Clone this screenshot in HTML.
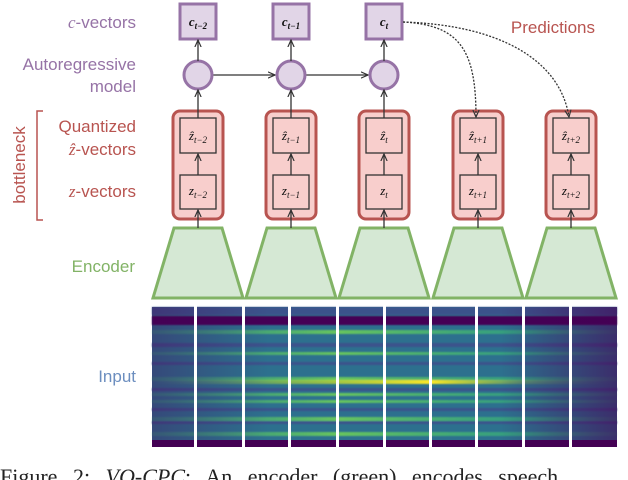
<!DOCTYPE html>
<html><head><style>
body{margin:0;background:#fff;width:628px;height:480px;overflow:hidden;}
svg{display:block}
</style></head><body>
<svg width="628" height="480" viewBox="0 0 628 480" xmlns="http://www.w3.org/2000/svg">
<defs>
<marker id="a" viewBox="0 0 10 10" refX="9" refY="5" markerWidth="6" markerHeight="6" orient="auto"><path d="M0,1 L9,5 L0,9" fill="none" stroke="#333" stroke-width="1.5"/></marker>
<linearGradient id="hx" x1="0" x2="1" y1="0" y2="0">
<stop offset="0" stop-color="#440154" stop-opacity="0.35"/>
<stop offset="0.25" stop-color="#440154" stop-opacity="0"/>
<stop offset="0.75" stop-color="#440154" stop-opacity="0"/>
<stop offset="0.85" stop-color="#440154" stop-opacity="0.25"/>
<stop offset="1" stop-color="#440154" stop-opacity="0.6"/>
</linearGradient>
<linearGradient id="yb" x1="0" x2="1" y1="0" y2="0">
<stop offset="0" stop-color="#6ece58" stop-opacity="0"/>
<stop offset="0.3" stop-color="#b5de2b" stop-opacity="0.6"/>
<stop offset="0.6" stop-color="#fde725" stop-opacity="1"/>
<stop offset="0.8" stop-color="#b5de2b" stop-opacity="0.3"/>
<stop offset="1" stop-color="#6ece58" stop-opacity="0"/>
</linearGradient>
<linearGradient id="gb" x1="0" x2="1" y1="0" y2="0">
<stop offset="0" stop-color="#35b779" stop-opacity="0.3"/>
<stop offset="0.4" stop-color="#6ece58" stop-opacity="0.9"/>
<stop offset="0.8" stop-color="#35b779" stop-opacity="0.6"/>
<stop offset="1" stop-color="#35b779" stop-opacity="0.2"/>
</linearGradient>
<filter id="bl"><feGaussianBlur stdDeviation="0.8"/></filter>
</defs>

<g font-family="Liberation Sans, sans-serif" font-size="17" text-anchor="end">
<text x="136" y="28" fill="#9673a6"><tspan font-family="Liberation Serif, serif" font-style="italic">c</tspan>-vectors</text>
<text x="136" y="70" fill="#9673a6">Autoregressive</text>
<text x="136" y="92" fill="#9673a6">model</text>
<text x="136" y="132" fill="#b85450">Quantized</text>
<text x="136" y="155" fill="#b85450"><tspan font-family="Liberation Serif, serif" font-style="italic">ẑ</tspan>-vectors</text>
<text x="136" y="197" fill="#b85450"><tspan font-family="Liberation Serif, serif" font-style="italic">z</tspan>-vectors</text>
<text x="135" y="272" fill="#82b366">Encoder</text>
<text x="136" y="382" fill="#6c8ebf">Input</text>
<text x="595" y="33" fill="#b85450" text-anchor="end">Predictions</text>
</g>
<text transform="translate(25,165) rotate(-90)" font-family="Liberation Sans, sans-serif" font-size="17" fill="#b85450" text-anchor="middle">bottleneck</text>
<path d="M43,111 L37,111 L37,220 L43,220" fill="none" stroke="#b85450" stroke-width="1.5"/>

<line x1="212" y1="75" x2="275" y2="75" stroke="#333" stroke-width="1.3" marker-end="url(#a)"/>
<line x1="305" y1="75" x2="368" y2="75" stroke="#333" stroke-width="1.3" marker-end="url(#a)"/>

<g fill="#d5e8d4" stroke="#82b366" stroke-width="3">
<path d="M174,228 L222,228 L243,298 L153,298 Z"/>
<path d="M267,228 L315,228 L336,298 L246,298 Z"/>
<path d="M360,228 L408,228 L429,298 L339,298 Z"/>
<path d="M454,228 L502,228 L523,298 L433,298 Z"/>
<path d="M547,228 L595,228 L616,298 L526,298 Z"/>
</g>

<g fill="#f8cecc" stroke="#b85450" stroke-width="3">
<rect x="173" y="111" width="50" height="108" rx="7"/>
<rect x="266" y="111" width="50" height="108" rx="7"/>
<rect x="359" y="111" width="50" height="108" rx="7"/>
<rect x="453" y="111" width="50" height="108" rx="7"/>
<rect x="546" y="111" width="50" height="108" rx="7"/>
</g>
<g fill="#f8cecc" stroke="#333" stroke-width="1.3">
<rect x="180" y="118" width="36" height="35"/><rect x="180" y="175" width="36" height="34"/>
<rect x="273" y="118" width="36" height="35"/><rect x="273" y="175" width="36" height="34"/>
<rect x="366" y="118" width="36" height="35"/><rect x="366" y="175" width="36" height="34"/>
<rect x="460" y="118" width="36" height="35"/><rect x="460" y="175" width="36" height="34"/>
<rect x="553" y="118" width="36" height="35"/><rect x="553" y="175" width="36" height="34"/>
</g>
<g fill="#e1d5e7" stroke="#9673a6" stroke-width="3">
<rect x="180" y="4" width="36" height="35"/>
<rect x="273" y="4" width="36" height="35"/>
<rect x="366" y="4" width="36" height="35"/>
<circle cx="198" cy="75" r="14"/>
<circle cx="291" cy="75" r="14"/>
<circle cx="384" cy="75" r="14"/>
</g>

<g stroke="#333" stroke-width="1.3" marker-end="url(#a)">
<line x1="198" y1="228" x2="198" y2="210"/><line x1="198" y1="175" x2="198" y2="154"/><line x1="198" y1="118" x2="198" y2="90"/><line x1="198" y1="61" x2="198" y2="40"/>
<line x1="291" y1="228" x2="291" y2="210"/><line x1="291" y1="175" x2="291" y2="154"/><line x1="291" y1="118" x2="291" y2="90"/><line x1="291" y1="61" x2="291" y2="40"/>
<line x1="384" y1="228" x2="384" y2="210"/><line x1="384" y1="175" x2="384" y2="154"/><line x1="384" y1="118" x2="384" y2="90"/><line x1="384" y1="61" x2="384" y2="40"/>
<line x1="478" y1="228" x2="478" y2="210"/><line x1="478" y1="175" x2="478" y2="154"/>
<line x1="571" y1="228" x2="571" y2="210"/><line x1="571" y1="175" x2="571" y2="154"/>
</g>
<g fill="none" stroke="#333" stroke-width="1.3" stroke-dasharray="2,1.5" marker-end="url(#a)">
<path d="M403,22 C460,25 476,50 476,117"/>
<path d="M403,22 C500,25 560,60 569,117"/>
</g>

<g font-family="Liberation Serif, serif" font-style="italic" font-size="13" text-anchor="middle" fill="#111">
<text x="198" y="26" font-weight="bold">c<tspan font-size="9" dy="3">t−2</tspan></text>
<text x="291" y="26" font-weight="bold">c<tspan font-size="9" dy="3">t−1</tspan></text>
<text x="384" y="26" font-weight="bold">c<tspan font-size="9" dy="3">t</tspan></text>
<text x="198" y="140">ẑ<tspan font-size="9" dy="3">t−2</tspan></text>
<text x="291" y="140">ẑ<tspan font-size="9" dy="3">t−1</tspan></text>
<text x="384" y="140">ẑ<tspan font-size="9" dy="3">t</tspan></text>
<text x="478" y="140">ẑ<tspan font-size="9" dy="3">t+1</tspan></text>
<text x="571" y="140">ẑ<tspan font-size="9" dy="3">t+2</tspan></text>
<text x="198" y="195">z<tspan font-size="9" dy="3">t−2</tspan></text>
<text x="291" y="195">z<tspan font-size="9" dy="3">t−1</tspan></text>
<text x="384" y="195">z<tspan font-size="9" dy="3">t</tspan></text>
<text x="478" y="195">z<tspan font-size="9" dy="3">t+1</tspan></text>
<text x="571" y="195">z<tspan font-size="9" dy="3">t+2</tspan></text>
</g>

<g>
<rect x="152" y="307" width="465" height="140" fill="#2d708e"/>
<g filter="url(#bl)">
<rect x="152" y="307" width="465" height="8" fill="#3b528b"/>
<rect x="152" y="316" width="465" height="9" fill="#440154"/>
<rect x="152" y="330" width="465" height="4" fill="url(#gb)"/>
<rect x="152" y="343" width="465" height="4" fill="#3b528b"/>
<rect x="152" y="352" width="465" height="3" fill="url(#gb)"/>
<rect x="152" y="362" width="465" height="3" fill="#3b528b"/>
<rect x="152" y="377" width="465" height="4" fill="url(#gb)"/>
<rect x="152" y="380" width="465" height="4" fill="url(#yb)"/>
<rect x="152" y="388" width="465" height="3" fill="#3b528b"/>
<rect x="152" y="393" width="465" height="3" fill="url(#gb)"/>
<rect x="152" y="400" width="465" height="3" fill="url(#gb)"/>
<rect x="152" y="408" width="465" height="3" fill="#3b528b"/>
<rect x="152" y="417" width="465" height="4" fill="url(#gb)"/>
<rect x="152" y="421" width="465" height="3" fill="#3b528b"/>
<rect x="152" y="432" width="465" height="4" fill="url(#gb)"/>
</g>
<rect x="152" y="440" width="465" height="7" fill="#440154"/>
<rect x="152" y="307" width="465" height="140" fill="url(#hx)"/>
<g fill="#fff">
<rect x="194" y="305" width="3" height="144"/>
<rect x="242" y="305" width="3" height="144"/>
<rect x="288" y="305" width="3" height="144"/>
<rect x="336" y="305" width="3" height="144"/>
<rect x="383" y="305" width="3" height="144"/>
<rect x="429" y="305" width="3" height="144"/>
<rect x="475" y="305" width="3" height="144"/>
<rect x="522" y="305" width="3" height="144"/>
<rect x="569" y="305" width="3" height="144"/>
</g>
</g>

<text x="0" y="484" font-family="Liberation Serif, serif" font-size="22" fill="#222" word-spacing="10">Figure 2:  <tspan font-style="italic">VQ-CPC</tspan>: An encoder (green) encodes speech</text>
</svg>
</body></html>
